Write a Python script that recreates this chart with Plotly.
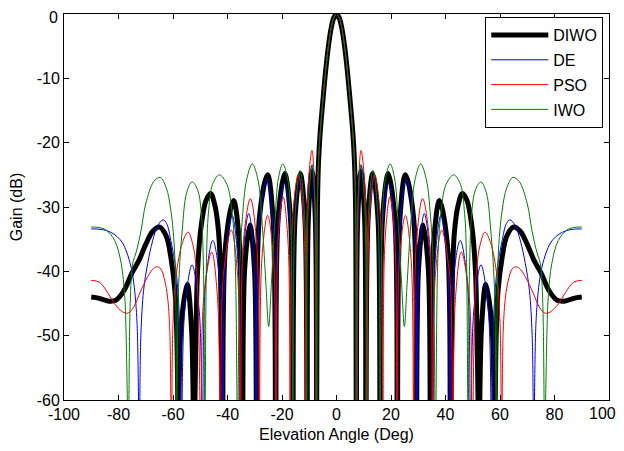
import plotly.graph_objects as go

# ---- DIWO (thick black) ----
diwo_deg = [-90, -87, -84, -81, -78, -75, -72.5, -70, -67.5, -65, -62.5, -60.8, -59.3, -58.6, -58.0,
            -57.1, -54.8, -53.2, -52.3, -51.0, -49.7, -47.9, -46.2, -44.6, -43.3, -42.6, -41.8,
            -40.7, -37.8, -35.6, -34.5, -33.7, -31.8, -30.1, -29.3, -28.3, -25.3, -23.3, -22.3,
            -21.4, -19.0, -16.9, -16.0, -15.2, -13.3, -11.6, -10.8, -10.3, -9.0, -7.8, -7.3,
            -7.0, -6.6, -6, -5, -4, -3, -2, -1,
            0,
            1, 2, 3, 4, 5, 6, 6.6, 7.0, 7.3, 7.8, 9.0, 10.3, 10.8, 11.6, 13.3, 15.2, 16.0, 16.9,
            19.0, 21.4, 22.3, 23.3, 25.3, 28.3, 29.3, 30.1, 31.8, 33.7, 34.5, 35.6, 37.8, 40.7,
            41.8, 42.6, 43.3, 44.6, 46.2, 47.9, 49.7, 51.0, 52.3, 53.2, 54.8, 57.1, 58.0, 58.6,
            59.3, 60.8, 62.5, 65.0, 67.5, 70.0, 72.5, 75.0, 78.0, 81.0, 84.0, 87.0, 90.0]
diwo_db = [-44.0, -44.2, -44.6, -44.5, -43.0, -40.2, -38.3, -35.8, -33.8, -33.1, -34.5, -37.8, -43, -50, -65,
           -48.9, -42.0, -48.9, -65, -40, -33.1, -29.0, -27.9, -29.8, -33.8, -40, -65,
           -35.9, -29.0, -35.9, -65, -39.7, -32.8, -39.7, -65, -31.7, -25.0, -31.7, -65,
           -31.7, -24.8, -31.7, -65, -31.7, -24.8, -31.7, -65, -31.5, -24.5, -31.5, -65,
           -30, -23, -18.5, -13.5, -8.9, -5.1, -2.3, -0.6,
           0,
           -0.6, -2.3, -5.1, -8.9, -13.5, -18.5, -23, -30, -65, -31.5, -24.5, -31.5, -65, -31.7, -24.8, -31.7, -65, -31.7,
           -24.8, -31.7, -65, -31.7, -25.0, -31.7, -65, -39.7, -32.8, -39.7, -65, -35.9, -29.0, -35.9,
           -65, -40, -33.8, -29.8, -27.9, -29.0, -33.1, -40, -65, -48.9, -42.0, -48.9, -65, -50,
           -43, -37.8, -34.5, -33.1, -33.8, -35.8, -38.3, -40.2, -43.0, -44.5, -44.6, -44.2, -44.0]

# ---- DE (blue) ----
de_deg = [-90.0, -86.0, -83.0, -80.5, -78.5, -77.0, -75.3, -74.2, -73.2, -72.4, -71.8, -70.8, -69.3,
          -67.5, -65.5, -63.6, -62.3, -60.8, -59.0, -57.8, -56.9, -55.7, -53.0, -50.4, -49.2, -48.1,
          -45.4, -42.7, -41.6, -40.7, -38.3, -36.2, -35.3, -34.4, -32.2, -30.4, -29.5, -28.4, -25.6,
          -23.4, -22.3, -21.4, -19.1, -16.9, -16.0, -15.25, -13.5, -11.75, -11.0, -10.5, -9.1, -8.1,
          -7.6, -7.1, -6.6, -6, -5, -4, -3, -2, -1,
          0,
          1, 2, 3, 4, 5, 6, 6.6, 7.1, 7.6, 8.1, 9.1, 10.5, 11.0, 11.75, 13.5, 15.25, 16.0, 16.9, 19.1,
          21.4, 22.3, 23.4, 25.6, 28.4, 29.5, 30.4, 32.2, 34.4, 35.3, 36.2, 38.3, 40.7, 41.6, 42.7,
          45.4, 48.1, 49.2, 50.4, 53.0, 55.7, 56.9, 57.8, 59.0, 60.8, 62.3, 63.6, 65.5, 67.5, 69.3,
          70.8, 71.8, 72.4, 73.2, 74.2, 75.3, 77.0, 78.5, 80.5, 83.0, 86.0, 90.0]
de_db = [-33.4, -33.5, -33.9, -34.6, -35.6, -37.0, -39.5, -42.5, -48, -65, -50, -43, -38.8,
         -35.3, -32.8, -32.0, -32.6, -35.2, -39.5, -46, -65, -46.0, -39.0, -46.0, -65, -42.1,
         -35.2, -42.1, -65, -38.2, -31.3, -38.2, -65, -37.9, -31.0, -37.9, -65, -32.6, -25.7,
         -32.6, -65, -33.2, -26.3, -33.2, -65, -32.4, -25.5, -32.4, -65, -30.4, -23.5, -30.4,
         -65, -30, -23, -18.5, -13.5, -8.9, -5.1, -2.3, -0.6,
         0,
         -0.6, -2.3, -5.1, -8.9, -13.5, -18.5, -23, -30, -65, -30.4, -23.5, -30.4, -65, -32.4, -25.5, -32.4, -65, -33.2, -26.3,
         -33.2, -65, -32.6, -25.7, -32.6, -65, -37.9, -31.0, -37.9, -65, -38.2, -31.3, -38.2, -65, -42.1,
         -35.2, -42.1, -65, -46.0, -39.0, -46.0, -65, -46, -39.5, -35.2, -32.6, -32.0, -32.8, -35.3, -38.8,
         -43, -50, -65, -48, -42.5, -39.5, -37.0, -35.6, -34.6, -33.9, -33.5, -33.4]

# ---- PSO (red) ----
pso_deg = [-90.0, -87.0, -84.0, -81.5, -78.5, -76.5, -74.5, -72.0, -69.5, -67.5, -66.0, -64.5, -63.0,
           -62.0, -61.2, -60.6, -60.0, -58.9, -56.5, -54.5, -52.8, -51.2, -49.8, -48.7, -45.8, -43.7,
           -42.6, -41.5, -38.6, -36.3, -35.2, -34.2, -31.6, -29.3, -28.3, -27.4, -25.3, -23.1, -22.2,
           -21.4, -19.6, -17.8, -17.0, -16.1, -14.0, -12.1, -11.2, -10.6, -9.0, -8.0, -7.5, -7.1,
           -6.6, -6, -5, -4, -3, -2, -1,
           0,
           1, 2, 3, 4, 5, 6, 6.6, 7.1, 7.5, 8.0, 9.0, 10.6, 11.2, 12.1, 14.0, 16.1, 17.0, 17.8, 19.6,
           21.4, 22.2, 23.1, 25.3, 27.4, 28.3, 29.3, 31.6, 34.2, 35.2, 36.3, 38.6, 41.5, 42.6, 43.7,
           45.8, 48.7, 49.8, 51.2, 52.8, 54.5, 56.5, 58.9, 60.0, 60.6, 61.2, 62.0, 63.0, 64.5, 66.0,
           67.5, 69.5, 72.0, 74.5, 76.5, 78.5, 81.5, 84.0, 87.0, 90.0]
pso_db = [-41.4, -41.7, -43.3, -45.0, -46.3, -46.5, -45.6, -43.2, -41.0, -39.7, -39.3, -39.6, -41.5,
          -44, -49, -65, -48, -40.8, -35.5, -33.9, -35.7, -40.8, -65, -43.9, -37.0, -43.9,
          -65, -40.5, -33.6, -40.5, -65, -35.6, -28.7, -35.6, -65, -38.2, -31.3, -38.2, -65,
          -35.3, -28.4, -35.3, -65, -31.8, -24.9, -31.8, -65, -28.1, -21.2, -28.1, -65, -30,
          -23, -18.5, -13.5, -8.9, -5.1, -2.3, -0.6,
          0,
          -0.6, -2.3, -5.1, -8.9, -13.5, -18.5, -23, -30, -65, -28.1, -21.2, -28.1, -65, -31.8, -24.9, -31.8, -65, -35.3, -28.4,
          -35.3, -65, -38.2, -31.3, -38.2, -65, -35.6, -28.7, -35.6, -65, -40.5, -33.6, -40.5, -65, -43.9,
          -37.0, -43.9, -65, -40.8, -35.7, -33.9, -35.5, -40.8, -48, -65, -49, -44, -41.5, -39.6, -39.3,
          -39.7, -41.0, -43.2, -45.6, -46.5, -46.3, -45.0, -43.3, -41.7, -41.4]

# ---- IWO (green) ----
iwo_deg = [-90.0, -87.0, -84.5, -81.4, -79.0, -77.7, -77.2, -76.4, -75.7, -74.8, -73.5, -71.7, -70.0,
           -67.0, -64.7, -62.5, -60.8, -59.3, -58.7, -57.9, -56.6, -55.0, -53.0, -51.0, -49.7, -48.8,
           -48.3, -47.7, -47.0, -45.5, -43.0, -40.2, -38.3, -37.2, -36.3, -35.5, -34.5, -33.0, -30.9,
           -28.8, -27.2, -25.9, -24.9, -23.9, -22.7, -21.3, -19.7, -18.0, -16.9, -16.0, -15.2, -13.4,
           -11.7, -10.9, -10.4, -8.9, -7.8, -7.2, -7.0, -6.6, -6, -5, -4, -3, -2, -1,
           0,
           1, 2, 3, 4, 5, 6, 6.6, 7.0, 7.2, 7.8, 8.9, 10.4, 10.9, 11.7, 13.4, 15.2, 16.0, 16.9, 18.0,
           19.7, 21.3, 22.7, 23.9, 24.9, 25.9, 27.2, 28.8, 30.9, 33.0, 34.5, 35.5, 36.3, 37.2, 38.3,
           40.2, 43.0, 45.5, 47.0, 47.7, 48.3, 48.8, 49.7, 51.0, 53.0, 55.0, 56.6, 57.9, 58.7, 59.3,
           60.8, 62.5, 64.7, 67.0, 70.0, 71.7, 73.5, 74.8, 75.7, 76.4, 77.2, 77.7, 79.0, 81.4, 84.5,
           87.0, 90.0]
iwo_db = [-33.1, -33.2, -33.6, -35.2, -38.8, -44, -50, -65, -45, -38.8, -37.0, -33.6, -29.5,
          -26.0, -25.4, -27.0, -30.5, -38, -65, -42, -33.6, -27.8, -26.1, -27.3, -30.5, -40,
          -65, -38, -31, -26.5, -25.0, -26.5, -31, -38, -65, -39, -31.5, -25.8, -23.3,
          -25.8, -33, -42, -48.6, -42, -33, -25.5, -23.3, -25.5, -31, -65, -31.3, -24.3,
          -31.3, -65, -30.4, -23.4, -30.4, -65, -32, -23, -18.5, -13.5, -8.9, -5.1, -2.3, -0.6,
          0,
          -0.6, -2.3, -5.1, -8.9, -13.5, -18.5, -23, -32, -65, -30.4, -23.4, -30.4, -65, -31.3, -24.3, -31.3, -65, -31, -25.5,
          -23.3, -25.5, -33, -42, -48.6, -42, -33, -25.8, -23.3, -25.8, -31.5, -39, -65, -38, -31,
          -26.5, -25.0, -26.5, -31, -38, -65, -40, -30.5, -27.3, -26.1, -27.8, -33.6, -42, -65, -38,
          -30.5, -27.0, -25.4, -26.0, -29.5, -33.6, -37.0, -38.8, -45, -65, -50, -44, -38.8, -35.2, -33.6,
          -33.2, -33.1]

assert len(diwo_deg) == len(diwo_db)
assert len(de_deg) == len(de_db)
assert len(pso_deg) == len(pso_db)
assert len(iwo_deg) == len(iwo_db)

series_names = ["DIWO", "DE", "PSO", "IWO"]
series_colors = ["#000000", "#0000FF", "#FF0000", "#008000"]
series_widths = [5, 1, 1, 1]
series_x = [diwo_deg, de_deg, pso_deg, iwo_deg]
series_y = [diwo_db, de_db, pso_db, iwo_db]

x_ticks = [-100, -80, -60, -40, -20, 0, 20, 40, 60, 80, 100]
y_ticks = [-60, -50, -40, -30, -20, -10, 0]

FONT = "Liberation Sans, Arial, Helvetica, sans-serif"

fig = go.Figure()
for name, col, w, xs, ys in zip(series_names, series_colors, series_widths, series_x, series_y):
    fig.add_trace(go.Scatter(
        x=xs, y=ys, mode="lines", name=name, legendgroup=name,
        line=dict(color=col, width=w, shape="spline", smoothing=1.0),
    ))

axis_common = dict(
    showline=True, linecolor="black", linewidth=1, mirror="allticks",
    ticks="inside", ticklen=5, tickwidth=1, tickcolor="black",
    showgrid=False, zeroline=False, automargin=False,
    ticklabeloverflow="allow",
    tickfont=dict(family=FONT, size=16, color="black"),
)

# the outermost labels (x = 100, y = 0) would run past the visible page edge,
# so they are drawn as annotations nudged slightly inward instead of tick labels
x_ticktext = [str(v) for v in x_ticks[:-1]] + [""]
y_ticktext = [str(v) for v in y_ticks[:-1]] + [""]

# the page body adds an 8 px offset, so the figure is smaller and margins compensate
fig.update_layout(
    template="none",
    width=616, height=435,
    margin=dict(l=56, r=15, t=6, b=43, autoexpand=False),
    paper_bgcolor="white", plot_bgcolor="white",
    font=dict(family=FONT, size=16, color="black"),
    xaxis=dict(range=[-100, 100], tickvals=x_ticks, ticktext=x_ticktext,
               title=dict(text="Elevation Angle (Deg)", font=dict(family=FONT, size=16), standoff=6),
               **axis_common),
    yaxis=dict(range=[-60, 0], tickvals=y_ticks, ticktext=y_ticktext,
               title=dict(text="Gain (dB)", font=dict(family=FONT, size=16), standoff=20),
               **axis_common),
    legend=dict(
        x=0.9895, y=0.992, xanchor="right", yanchor="top",
        bgcolor="white", bordercolor="black", borderwidth=1,
        font=dict(family=FONT, size=16, color="black"),
        itemwidth=57, tracegroupgap=1,
    ),
    showlegend=True,
    annotations=[
        dict(x=x_ticks[-1], xref="x", y=0, yref="paper",
             text=str(x_ticks[-1]), showarrow=False,
             xanchor="center", yanchor="middle", xshift=-7, yshift=-13,
             font=dict(family=FONT, size=16, color="black")),
        dict(x=0, xref="paper", y=y_ticks[-1], yref="y",
             text=str(y_ticks[-1]), showarrow=False,
             xanchor="right", yanchor="middle", xshift=-4, yshift=-3,
             font=dict(family=FONT, size=16, color="black")),
    ],
)

fig.write_html("out.html")
